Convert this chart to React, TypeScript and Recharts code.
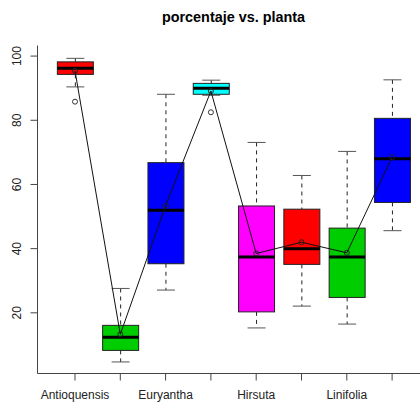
import { Bar, ComposedChart, Line, XAxis, YAxis } from 'recharts';

// one entry per box, left to right
const groups = ['1', '2', '3', '4', '5', '6', '7', '8'];
const tickLabels = ['Antioquensis', '', 'Euryantha', '', 'Hirsuta', '', 'Linifolia', ''];
const fills = ['#FF0000', '#00CD00', '#0000FF', '#00FFFF', '#FF00FF', '#FF0000', '#00CD00', '#0000FF'];

const whiskerLow = [90.4, 4.7, 27.1, 87.8, 15.3, 22.1, 16.5, 45.6];
const q1 = [94.3, 8.3, 35.3, 88.1, 20.3, 35.1, 24.8, 54.4];
const median = [96.2, 12.4, 52.0, 90.0, 37.4, 40.0, 37.4, 68.0];
const q3 = [98.2, 16.1, 66.8, 91.5, 53.3, 52.3, 46.4, 80.6];
const whiskerHigh = [99.3, 27.6, 88.1, 92.5, 73.1, 62.8, 70.3, 92.6];
const means = [95.4, 13.3, 53.4, 89.1, 38.5, 42.0, 38.7, 68.5];
const outliers: (number | null)[] = [85.8, null, null, 82.5, null, null, null, null];

const yTicks = [20, 40, 60, 80, 100];

const data = groups.map((g, i) => ({
  group: g,
  box: [q1[i], q3[i]],
  lo: whiskerLow[i],
  q1: q1[i],
  med: median[i],
  q3: q3[i],
  hi: whiskerHigh[i],
  fill: fills[i],
  mean: means[i],
  outlier: outliers[i],
}));

const FONT = '"Liberation Sans", Arial, sans-serif';

function BoxShape(props: any) {
  const { x, y, width, height, payload } = props;
  const k = height / (payload.q3 - payload.q1);
  const py = (v: number) => y + (payload.q3 - v) * k;
  const cx = x + width / 2;
  const cap = width / 4;
  return (
    <g>
      <line x1={cx} x2={cx} y1={py(payload.hi)} y2={y} stroke="#222" strokeDasharray="4 4" />
      <line x1={cx} x2={cx} y1={y + height} y2={py(payload.lo)} stroke="#222" strokeDasharray="4 4" />
      <line x1={cx - cap} x2={cx + cap} y1={py(payload.hi)} y2={py(payload.hi)} stroke="#555" />
      <line x1={cx - cap} x2={cx + cap} y1={py(payload.lo)} y2={py(payload.lo)} stroke="#555" />
      <rect x={x} y={y} width={width} height={height} fill={payload.fill} stroke="#222" />
      <line x1={x} x2={x + width} y1={py(payload.med)} y2={py(payload.med)} stroke="#000" strokeWidth={3} />
    </g>
  );
}

function YTick(props: any) {
  const { x, y, payload } = props;
  const bx = x - 7.5;
  return (
    <text
      x={bx}
      y={y}
      transform={`rotate(-90 ${bx} ${y})`}
      textAnchor="middle"
      fontSize={12}
      fontFamily={FONT}
      fill="#222"
    >
      {payload.value}
    </text>
  );
}

function XTick(props: any) {
  const { x, y, index } = props;
  const label = tickLabels[index];
  if (!label) return null;
  return (
    <text x={x} y={y + 16} textAnchor="middle" fontSize={12} fontFamily={FONT} fill="#222">
      {label}
    </text>
  );
}

export default function App() {
  return (
    <div
      style={{
        position: 'fixed',
        left: 0,
        top: 0,
        width: 420,
        height: 403,
        overflow: 'hidden',
        background: '#fff',
      }}
    >
      <svg width={420} height={40} style={{ position: 'absolute', left: 0, top: 0 }}>
        <text x={233.5} y={22} textAnchor="middle" fontSize={14.4} fontWeight="bold" fontFamily={FONT} fill="#000">
          porcentaje vs. planta
        </text>
      </svg>
      <div style={{ position: 'absolute', left: 0, top: 0 }}>
        <ComposedChart
          width={440}
          height={403}
          data={data}
          margin={{ top: 45.5, right: 11, bottom: 0, left: 0 }}
        >
          <XAxis
            dataKey="group"
            height={29.5}
            padding={{ left: 14.85, right: 14.25 }}
            tickSize={7}
            tickLine={{ stroke: '#444' }}
            axisLine={{ stroke: '#444' }}
            tick={<XTick />}
            interval={0}
          />
          <XAxis
            xAxisId="top"
            dataKey="group"
            orientation="top"
            height={0}
            tick={false}
            tickLine={false}
            axisLine={{ stroke: '#444' }}
          />
          <YAxis
            width={37.5}
            domain={[1.1, 103.3]}
            ticks={yTicks}
            allowDataOverflow
            tickSize={7}
            tickLine={{ stroke: '#444' }}
            axisLine={{ stroke: '#444' }}
            tick={<YTick />}
          />
          <Bar dataKey="box" barSize={36} shape={<BoxShape />} isAnimationActive={false} />
          <Line
            dataKey="mean"
            stroke="#111"
            strokeWidth={1}
            dot={{ r: 2.5, fill: 'none', stroke: '#222', strokeWidth: 1 }}
            activeDot={false}
            isAnimationActive={false}
          />
          <Line
            dataKey="outlier"
            stroke="none"
            dot={{ r: 2.5, fill: 'none', stroke: '#333', strokeWidth: 1 }}
            activeDot={false}
            isAnimationActive={false}
          />
        </ComposedChart>
      </div>
    </div>
  );
}
